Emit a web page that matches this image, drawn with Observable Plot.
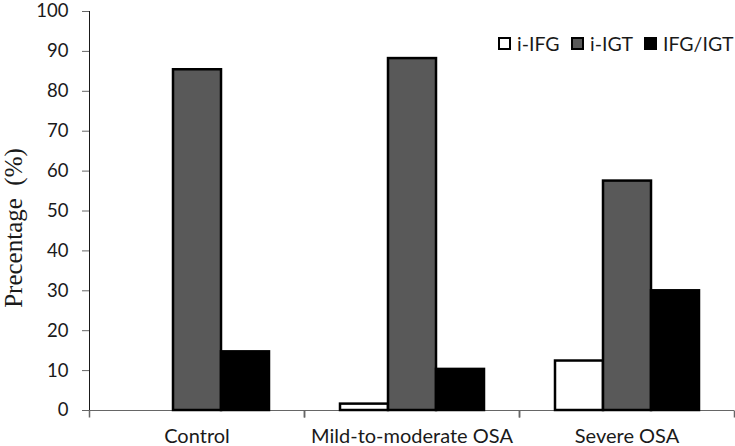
<!DOCTYPE html>
<html>
<head>
<meta charset="utf-8">
<script src="https://cdn.jsdelivr.net/npm/d3@7"></script>
<script src="https://cdn.jsdelivr.net/npm/@observablehq/plot@0.6"></script>
<style>
  body { margin: 0; background: #fff; }
  #wrap { position: relative; width: 735px; height: 446px; overflow: hidden; }
  #wrap svg { overflow: visible; }
  #wrap svg g[aria-label^="y-axis"] path,
  #wrap svg g[aria-label^="y-axis"] line { stroke: #666; }
  #wrap svg g[aria-label^="fx-axis"] text { font-size: 20px; }
  .ylabel {
    position: absolute; left: 13px; top: 228px;
    transform: translate(-50%, -50%) rotate(-90deg);
    font-family: "Liberation Serif", "DejaVu Serif", serif; font-size: 25px;
    white-space: pre; color: #1a1a1a; line-height: 1;
  }
  .legend-item { position: absolute; top: 34px; display: flex; align-items: center;
    font-family: Lato, sans-serif; font-size: 19.5px; color: #1a1a1a; line-height: 1; }
  .legend-item .box { width: 9px; height: 9px; border: 2px solid #000; margin-right: 6px; }
</style>
</head>
<body>
<div id="wrap"></div>
<script>
const groups = ["Control", "Mild-to-moderate OSA", "Severe OSA"];
const series = ["i-IFG", "i-IGT", "IFG/IGT"];
const iIFG = [0, 1.6, 12.4];
const iIGT = [85.4, 88.2, 57.5];
const ifgIgt = [14.7, 10.3, 30.0];
const colors = ["#ffffff", "#595959", "#000000"];
const yTicks = [0, 10, 20, 30, 40, 50, 60, 70, 80, 90, 100];
const yLabel = "Precentage  (%)";
const legendX = [498, 571, 644];

const values = [iIFG, iIGT, ifgIgt];
const rows = groups.flatMap((g, i) => series.map((s, j) => ({group: g, series: s, value: values[j][i]})));

const tickSym = { draw(ctx) { ctx.moveTo(0, 0); ctx.lineTo(0, 7); } };

const chart = Plot.plot({
  width: 735,
  height: 446,
  marginLeft: 89,
  marginRight: 1,
  marginTop: 11,
  marginBottom: 36,
  style: { fontFamily: "Lato, sans-serif", fontSize: "18.5px", color: "#1a1a1a", background: "white" },
  facet: { data: rows, x: "group" },
  fx: { domain: groups, padding: 0, axis: "bottom", tickSize: 0, tickPadding: 18, label: null },
  x: { domain: series, paddingInner: 0, paddingOuter: 0.725, axis: null },
  y: { domain: [0, 100], ticks: yTicks, tickSize: 7, tickPadding: 14, line: true, label: null },
  color: { domain: series, range: colors },
  marks: [
    Plot.ruleY([0], { stroke: "#666" }),
    Plot.dot([0], { frameAnchor: "bottom-left", symbol: tickSym, stroke: "#666", fill: "none" }),
    Plot.dot([0], { frameAnchor: "bottom-right", symbol: tickSym, stroke: "#666", fill: "none" }),
    Plot.barY(rows, { x: "series", y: "value", fill: "series", stroke: "black", strokeWidth: 2.5, filter: d => d.value > 0 })
  ]
});

const wrap = document.getElementById("wrap");
wrap.appendChild(chart);

const yl = document.createElement("div");
yl.className = "ylabel";
yl.textContent = yLabel;
wrap.appendChild(yl);

series.forEach((s, i) => {
  const item = document.createElement("div");
  item.className = "legend-item";
  item.style.left = legendX[i] + "px";
  const box = document.createElement("span");
  box.className = "box";
  box.style.background = colors[i];
  const t = document.createElement("span");
  t.textContent = s;
  item.appendChild(box);
  item.appendChild(t);
  wrap.appendChild(item);
});
</script>
</body>
</html>
